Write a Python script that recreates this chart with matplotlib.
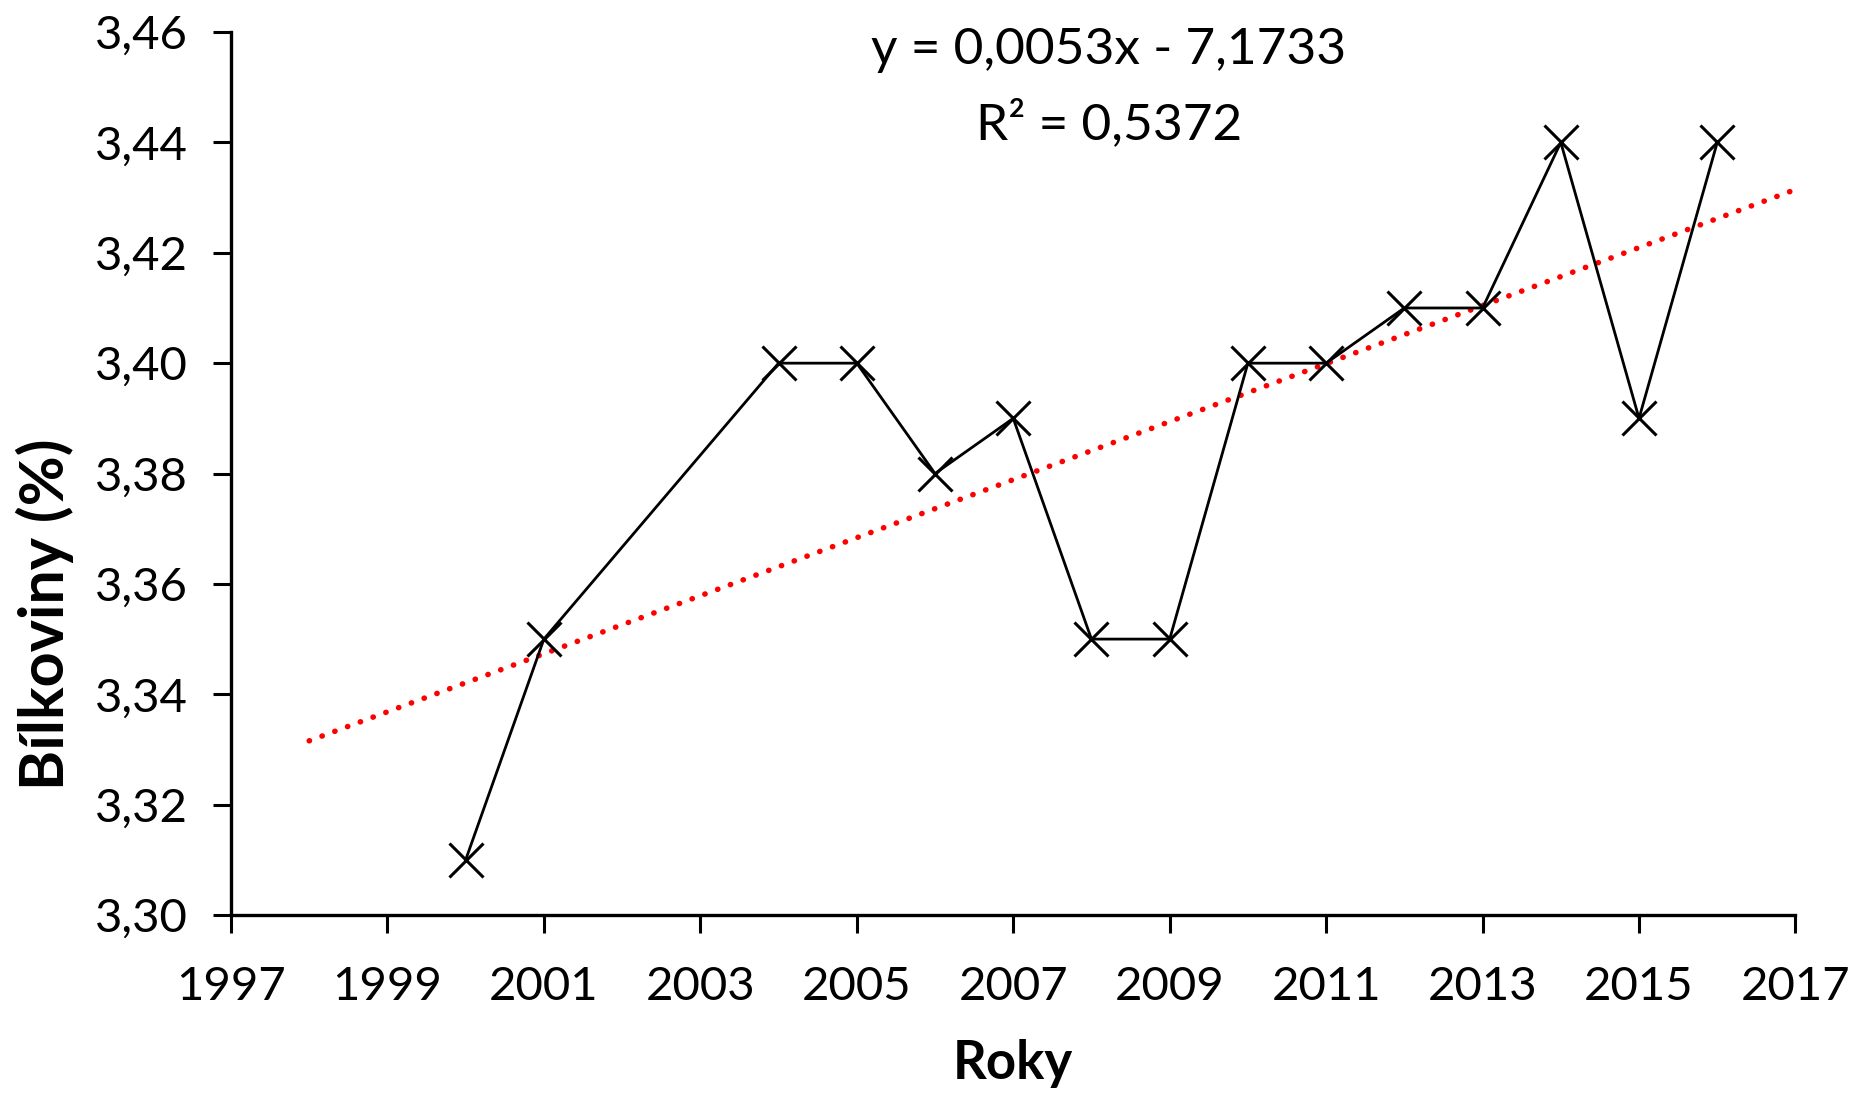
import numpy as np
import matplotlib
matplotlib.use("Agg")
import matplotlib.pyplot as plt
from matplotlib.ticker import FuncFormatter

years = [2000, 2001, 2004, 2005, 2006, 2007, 2008, 2009, 2010, 2011, 2012, 2013, 2014, 2015, 2016]
protein = [3.31, 3.35, 3.40, 3.40, 3.38, 3.39, 3.35, 3.35, 3.40, 3.40, 3.41, 3.41, 3.44, 3.39, 3.44]
trend_range = [1998, 2017]
eq_text = "y = 0,0053x - 7,1733"
r2_text = "R² = 0,5372"
x_ticks = list(range(1997, 2018, 2))
y_ticks = [3.30, 3.32, 3.34, 3.36, 3.38, 3.40, 3.42, 3.44, 3.46]

plt.rcParams['font.family'] = ['Lato', 'DejaVu Sans']

fig = plt.figure(figsize=(18.51, 10.94), dpi=100)
ax = fig.add_axes([0.1248, 0.1636, 0.970 - 0.1248, 0.9707 - 0.1636])

coef = np.polyfit(years, protein, 1)
tx = np.array(trend_range, dtype=float)
ax.plot(tx, np.polyval(coef, tx), color='#ff0000', lw=4.0,
        linestyle=(0, (0.05, 2.4)), dash_capstyle='round', zorder=2)

ax.plot(years, protein, color='black', lw=2.0, marker='x', markersize=25,
        markeredgewidth=2.2, zorder=3)

ax.set_xlim(1997, 2017)
ax.set_ylim(3.30, 3.46)
ax.set_xticks(x_ticks)
ax.set_yticks(y_ticks)
ax.yaxis.set_major_formatter(FuncFormatter(lambda v, p: f"{v:.2f}".replace('.', ',')))
ax.tick_params(axis='both', direction='out', length=13, width=2.2, labelsize=34, colors='black')
ax.tick_params(axis='x', pad=24)
ax.tick_params(axis='y', pad=18)
for s in ['top', 'right']:
    ax.spines[s].set_visible(False)
for s in ['left', 'bottom']:
    ax.spines[s].set_linewidth(2.4)

fig.text(45 / 1851, 1 - 614 / 1094, "Bílkoviny (%)", rotation=90, ha='center', va='center',
         fontsize=44, fontweight='bold')
fig.text(1013 / 1851, 1 - 1064 / 1094, "Roky", ha='center', va='center',
         fontsize=38, fontweight='bold')
fig.text(1109 / 1851, 1 - 50 / 1094, eq_text, ha='center', va='center', fontsize=37)
fig.text(1109 / 1851, 1 - 124 / 1094, r2_text, ha='center', va='center', fontsize=37)

fig.savefig("out.png", dpi=100)
